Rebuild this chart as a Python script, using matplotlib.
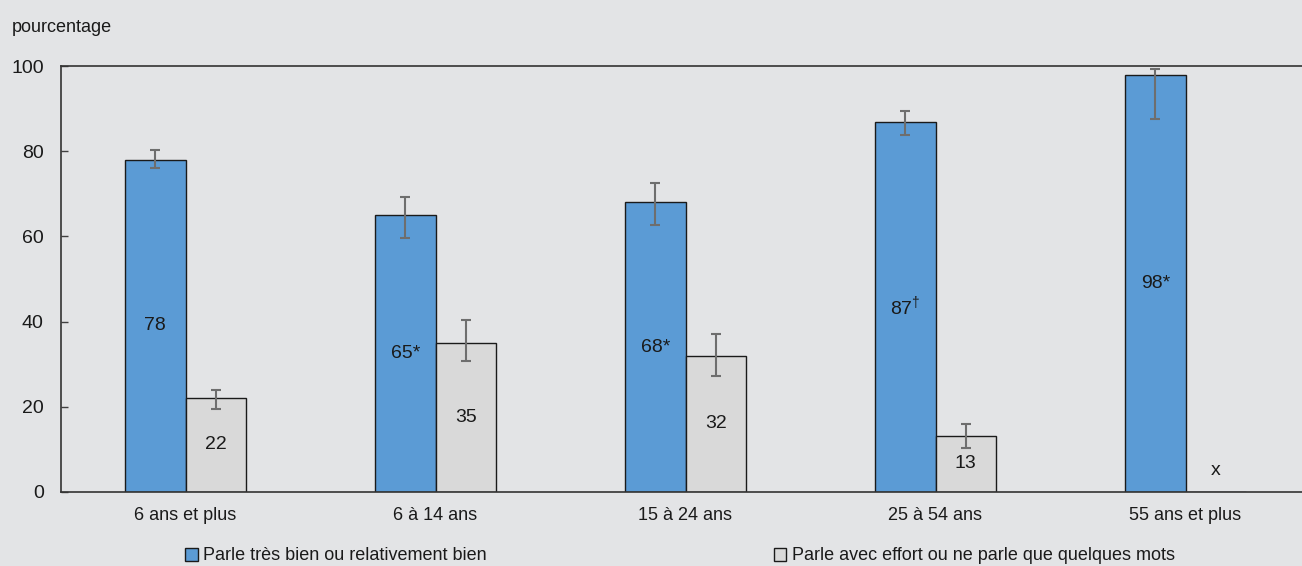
import numpy as np
import matplotlib
matplotlib.use("Agg")
from matplotlib import pyplot as plt
import matplotlib.patches as mpatches

# age groups and share of people by speaking ability
groups = ["6 ans et plus", "6 à 14 ans", "15 à 24 ans", "25 à 54 ans", "55 ans et plus"]
bien = [78, 65, 68, 87, 98]
bien_low = [76.0, 59.6, 62.7, 83.9, 87.7]
bien_high = [80.3, 69.3, 72.6, 89.5, 99.5]
bien_labels = ["78", "65*", "68*", r"87$^{\dagger}$", "98*"]
effort = [22, 35, 32, 13, np.nan]   # last value suppressed (x)
effort_low = [19.5, 30.7, 27.1, 10.2, np.nan]
effort_high = [23.8, 40.4, 37.0, 15.8, np.nan]
effort_labels = ["22", "35", "32", "13", "x"]
yticks = [0, 20, 40, 60, 80, 100]

bg = "#e3e4e6"
blue = "#5b9bd5"
grey = "#d9d9d9"
ink = "#1a1a1a"

plt.rcParams["font.family"] = ["Liberation Sans", "DejaVu Sans"]
plt.rcParams["mathtext.fontset"] = "custom"
plt.rcParams["mathtext.rm"] = "Liberation Sans"
plt.rcParams["font.size"] = 13

W, H = 1302, 566
fig = plt.figure(figsize=(W / 100, H / 100), dpi=100, facecolor=bg)
# axes runs a little past the right edge of the figure
ax = fig.add_axes([60.5 / W, (H - 491.5) / H, 1250 / W, 425 / H], facecolor=bg)

x = np.arange(len(groups))
w = 0.242
ax.bar(x - w / 2, bien, w, color=blue, edgecolor=ink, linewidth=1.0, zorder=2)
ax.bar(x + w / 2, np.nan_to_num(effort), w, color=grey, edgecolor=ink, linewidth=1.0, zorder=2)

bien = np.array(bien, dtype=float)
effort = np.array(effort, dtype=float)
err1 = [bien - np.array(bien_low), np.array(bien_high) - bien]
err2 = [effort - np.array(effort_low), np.array(effort_high) - effort]
ax.errorbar(x - w / 2, bien, yerr=err1, fmt="none", ecolor="#6e6e6e", elinewidth=1.5, capsize=3.3, capthick=1.5, zorder=3)
ax.errorbar(x + w / 2, effort, yerr=err2, fmt="none", ecolor="#6e6e6e", elinewidth=1.5, capsize=3.3, capthick=1.5, zorder=3)

for i in range(len(groups)):
    ax.text(x[i] - w / 2, bien[i] / 2, bien_labels[i], ha="center", va="center", color=ink, fontsize=14, zorder=4)
    ey = effort[i] / 2 if not np.isnan(effort[i]) else 5
    ax.text(x[i] + w / 2, ey, effort_labels[i], ha="center", va="center", color=ink, fontsize=14, zorder=4)

ax.set_xlim(-0.5, len(groups) - 0.5)
ax.set_ylim(0, 100)
ax.set_yticks(yticks)
ax.set_xticks(x)
ax.set_xticklabels(groups)
ax.tick_params(axis="y", direction="in", length=5, width=1, color="#404040", pad=12, labelsize=14, labelcolor=ink)
ax.tick_params(axis="x", length=0, pad=11, labelsize=13, labelcolor=ink)
for s in ["left", "bottom", "top", "right"]:
    ax.spines[s].set_color("#333333")
    ax.spines[s].set_linewidth(1.2)

fig.text(12 / W, (H - 28) / H, "pourcentage", ha="left", va="center", fontsize=13, color=ink)

h1 = mpatches.Patch(facecolor=blue, edgecolor=ink, linewidth=1.0, label="Parle très bien ou relativement bien")
h2 = mpatches.Patch(facecolor=grey, edgecolor=ink, linewidth=1.0, label="Parle avec effort ou ne parle que quelques mots")
fig.legend(handles=[h1, h2], ncol=2, loc="center left", bbox_to_anchor=(185 / W, (H - 556) / H),
           frameon=False, borderpad=0, borderaxespad=0, handlelength=0.7, handleheight=0.7,
           handletextpad=0.3, columnspacing=15.9, fontsize=13, labelcolor=ink)

fig.savefig("out.png", dpi=100, facecolor=bg)
